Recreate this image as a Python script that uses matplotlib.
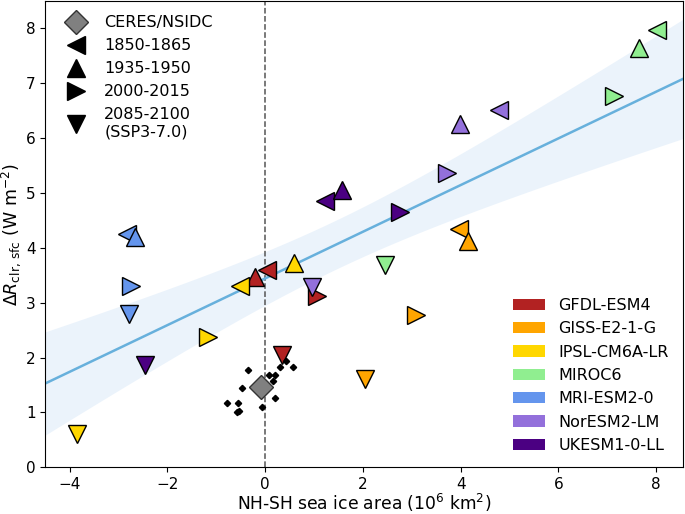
import matplotlib
matplotlib.use('Agg')
import matplotlib.pyplot as plt
from matplotlib.lines import Line2D
from matplotlib.patches import Patch
import numpy as np

# modelos y colores
modelos = ['GFDL-ESM4', 'GISS-E2-1-G', 'IPSL-CM6A-LR', 'MIROC6',
           'MRI-ESM2-0', 'NorESM2-LM', 'UKESM1-0-LL']
colores = ['firebrick', 'orange', 'gold', 'lightgreen',
           'cornflowerblue', 'mediumpurple', 'indigo']

periodos = ['1850-1865', '1935-1950', '2000-2015', '2085-2100\n(SSP3-7.0)']
marcadores = ['<', '^', '>', 'v']

# x: area hielo NH-SH, y: dR clr sfc  (orden de periodos: 1850, 1935, 2000, 2085)
x_modelo = {
    'GFDL-ESM4':    [0.03, -0.21, 1.07, 0.34],
    'GISS-E2-1-G':  [3.97, 4.15, 3.09, 2.05],
    'IPSL-CM6A-LR': [-0.52, 0.60, -1.17, -3.85],
    'MIROC6':       [8.01, 7.66, 7.13, 2.46],
    'MRI-ESM2-0':   [-2.82, -2.66, -2.75, -2.78],
    'NorESM2-LM':   [4.79, 3.99, 3.72, 0.95],
    'UKESM1-0-LL':  [1.23, 1.57, 2.77, -2.46],
}
y_modelo = {
    'GFDL-ESM4':    [3.59, 3.46, 3.13, 2.04],
    'GISS-E2-1-G':  [4.35, 4.13, 2.77, 1.60],
    'IPSL-CM6A-LR': [3.31, 3.73, 2.38, 0.61],
    'MIROC6':       [7.98, 7.65, 6.76, 3.68],
    'MRI-ESM2-0':   [4.26, 4.19, 3.30, 2.80],
    'NorESM2-LM':   [6.52, 6.25, 5.36, 3.28],
    'UKESM1-0-LL':  [4.85, 5.05, 4.65, 1.86],
}

# observaciones anuales y media
x_obs = [-0.36, -0.48, -0.77, -0.56, -0.58, -0.54, -0.07,
         0.07, 0.21, 0.16, 0.21, 0.30, 0.42, 0.57]
y_obs = [1.77, 1.44, 1.18, 1.18, 1.00, 1.02, 1.09,
         1.68, 1.69, 1.58, 1.27, 1.83, 1.93, 1.83]
x_ceres = -0.09
y_ceres = 1.46

fig = plt.figure(figsize=(6.85, 5.14), dpi=100)
ax = fig.add_axes([0.066, 0.091, 0.931, 0.907])

# regresion lineal con intervalo de confianza 95%
xs = np.concatenate([x_modelo[m] for m in modelos])
ys = np.concatenate([y_modelo[m] for m in modelos])
pendiente, intercepto = np.polyfit(xs, ys, 1)
xl = np.linspace(-4.5, 8.55, 200)
yl = intercepto + pendiente * xl
n = len(xs)
resid = ys - (intercepto + pendiente * xs)
s = np.sqrt(np.sum(resid ** 2) / (n - 2))
sxx = np.sum((xs - xs.mean()) ** 2)
ci = 2.056 * s * np.sqrt(1.0 / n + (xl - xs.mean()) ** 2 / sxx)
ax.fill_between(xl, yl - ci, yl + ci, color='#9cc5ee', alpha=0.2, lw=0, zorder=1)
ax.plot(xl, yl, color='#67b0dc', lw=1.8, zorder=2)

ax.axvline(0, color='#555555', ls='--', lw=1.1, zorder=1)

for m, c in zip(modelos, colores):
    for i, mk in enumerate(marcadores):
        ax.plot(x_modelo[m][i], y_modelo[m][i], marker=mk, ms=12.5, color=c,
                mec='black', mew=1, ls='none', zorder=3)

ax.plot(x_obs, y_obs, marker='D', ms=3.2, color='black', ls='none', zorder=3)
ax.plot(x_ceres, y_ceres, marker='D', ms=12, color='grey', mec='#333333',
        mew=1, ls='none', zorder=4)

ax.set_xlim(-4.5, 8.55)
ax.set_ylim(0, 8.5)
ax.tick_params(labelsize=11)
ax.set_xlabel('NH-SH sea ice area (10$^6$ km$^2$)', fontsize=12.3, labelpad=0)
ax.set_ylabel(r'$\Delta R_{\mathrm{clr,\,sfc}}$ (W m$^{-2}$)', fontsize=12.5, labelpad=2)

# leyenda de marcadores
h1 = [Line2D([], [], marker='D', ms=12, color='grey', mec='#333333', ls='none')]
for mk in marcadores:
    h1.append(Line2D([], [], marker=mk, ms=12.5, color='black', ls='none'))
leg1 = ax.legend(h1, ['CERES/NSIDC'] + periodos, loc='upper left', frameon=False,
                 fontsize=11.5, handletextpad=0.8, labelspacing=0.5,
                 bbox_to_anchor=(0.0, 1.0))
ax.add_artist(leg1)

# leyenda de modelos
h2 = [Patch(facecolor=c, edgecolor='none') for c in colores]
ax.legend(h2, modelos, loc='lower right', frameon=False, fontsize=11.5,
          handlelength=2.0, labelspacing=0.52)

fig.savefig('out.png', dpi=100)
plt.close(fig)
